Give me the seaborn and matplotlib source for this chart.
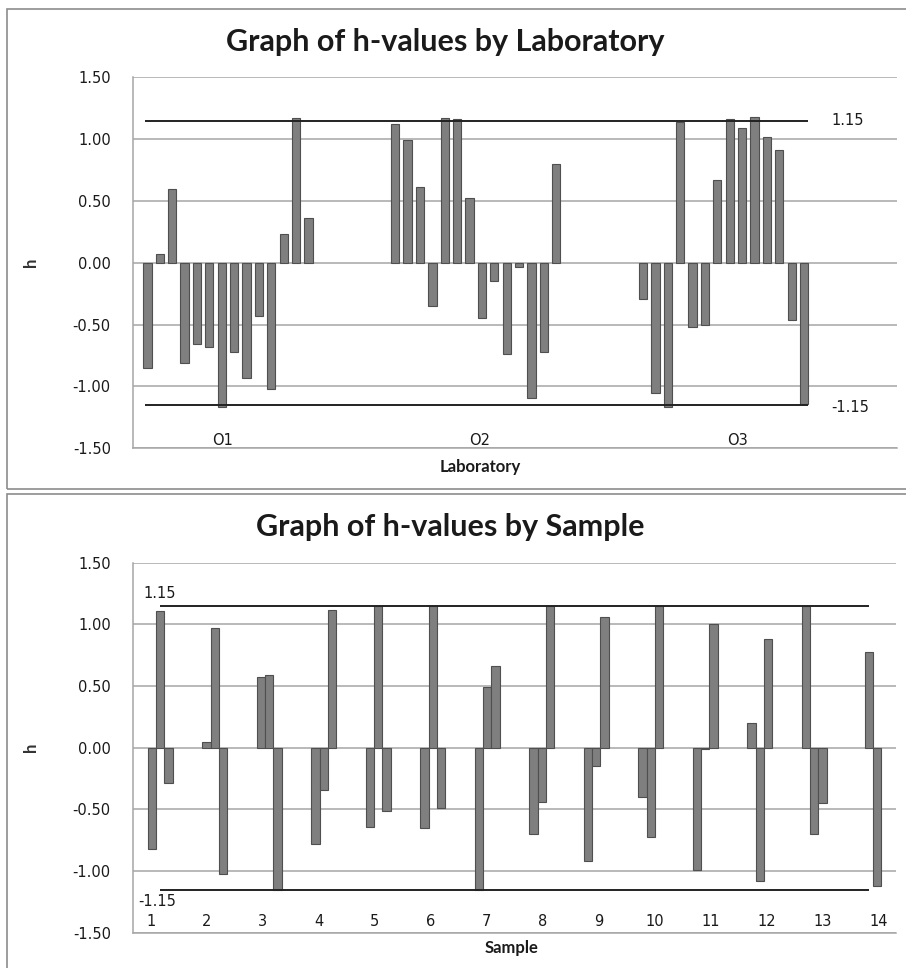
import numpy as np
import pandas as pd
import seaborn as sns
import matplotlib.pyplot as plt
from matplotlib.patches import Rectangle

labs = ['O1', 'O2', 'O3']
samples = [str(i) for i in range(1, 15)]
limit = 1.15

lab_O1 = [-0.85, 0.07, 0.60, -0.81, -0.66, -0.68, -1.17, -0.72, -0.93, -0.43, -1.02, 0.23, 1.17, 0.36]
lab_O2 = [1.12, 0.99, 0.61, -0.35, 1.17, 1.16, 0.52, -0.45, -0.15, -0.74, -0.03, -1.09, -0.72, 0.80]
lab_O3 = [-0.29, -1.05, -1.17, 1.14, -0.52, -0.50, 0.67, 1.16, 1.09, 1.18, 1.02, 0.91, -0.46, -1.14]

smp_O1 = [-0.82, 0.05, 0.57, -0.78, -0.64, -0.65, -1.15, -0.70, -0.92, -0.40, -0.99, 0.20, 1.15, np.nan]
smp_O2 = [1.11, 0.97, 0.59, -0.34, 1.15, 1.15, 0.49, -0.44, -0.15, -0.72, -0.01, -1.08, -0.70, 0.78]
smp_O3 = [-0.29, -1.02, -1.15, 1.12, -0.51, -0.49, 0.66, 1.15, 1.06, 1.15, 1.00, 0.88, -0.45, -1.12]

sns.set_style('white')
plt.rcParams['font.family'] = ['DejaVu Sans']

W, H = 906, 968
bar_col = '#7f7f7f'
edge_col = '#4f4f4f'
grid_col = '#a6a6a6'
line_col = '#222222'
txt_col = '#1a1a1a'
tick_fs = 10.5

fig = plt.figure(figsize=(W / 100, H / 100), dpi=100)

# chart area frames
fig.patches.append(Rectangle((7 / W, 1 - 489 / H), 1, 480 / H, transform=fig.transFigure,
                             fill=False, ec='#8c8c8c', lw=1.2))
fig.patches.append(Rectangle((7 / W, -0.1), 1, 1 - 494 / H + 0.1, transform=fig.transFigure,
                             fill=False, ec='#8c8c8c', lw=1.2))

ax1 = fig.add_axes([133 / W, 1 - 448.3 / H, 764 / W, 371 / H])
ax2 = fig.add_axes([133 / W, 1 - 932.7 / H, 763 / W, 370 / H])


def style_axis(ax):
    ax.set_ylim(-1.5, 1.5)
    ticks = np.arange(-1.5, 1.51, 0.5)
    ax.set_yticks(ticks)
    ax.set_yticklabels([f'{t:.2f}' for t in ticks], fontsize=tick_fs, color=txt_col)
    ax.tick_params(axis='y', length=0, pad=16)
    ax.set_xticks([])
    for y in ticks:
        ax.axhline(y, color=grid_col, lw=1.1, zorder=0)
    for s in ['top', 'right']:
        ax.spines[s].set_visible(False)
    for s in ['left', 'bottom']:
        ax.spines[s].set_color(grid_col)
        ax.spines[s].set_linewidth(1.1)
    ax.set_ylabel('h', fontsize=12, family='Lato', weight='bold', color='#333333', labelpad=24)
    ax.set_xlabel('')


# --- top: by laboratory ---
df_lab = pd.DataFrame({'Laboratory': np.repeat(labs, 14),
                       'Sample': samples * 3,
                       'h': lab_O1 + lab_O2 + lab_O3})
sns.barplot(data=df_lab, x='Laboratory', y='h', hue='Sample', order=labs, hue_order=samples,
            palette=[bar_col] * 14, saturation=1, width=0.70, gap=0.33, errorbar=None,
            edgecolor=edge_col, linewidth=0.8, legend=False, ax=ax1)
style_axis(ax1)
ax1.set_xlim(-0.383, 2.70)
ax1.hlines([limit, -limit], -0.335, 2.34, color=line_col, lw=1.4, zorder=3)
ax1.text(2.435, limit, '1.15', fontsize=tick_fs, va='center', ha='left', color=txt_col)
ax1.text(2.435, -limit - 0.02, '-1.15', fontsize=tick_fs, va='center', ha='left', color=txt_col)
for x, lab in zip([-0.02, 1.016, 2.056], labs):
    ax1.text(x, -1.437, lab, fontsize=tick_fs, ha='center', va='center', color=txt_col)
fig.text(480 / W, 1 - 467 / H, 'Laboratory', fontsize=12, family='Lato', weight='bold',
         ha='center', va='center', color=txt_col)
fig.text(445 / W, 1 - 42 / H, 'Graph of h-values by Laboratory', fontsize=22, family='Lato',
         weight='bold', ha='center', va='center', color=txt_col)

# --- bottom: by sample ---
df_smp = pd.DataFrame({'Sample': samples * 3,
                       'Lab': np.repeat(labs, 14),
                       'h': smp_O1 + smp_O2 + smp_O3})
sns.barplot(data=df_smp, x='Sample', y='h', hue='Lab', order=samples, hue_order=labs,
            palette=[bar_col] * 3, saturation=1, width=0.45, gap=0, errorbar=None,
            edgecolor=edge_col, linewidth=0.8, legend=False, ax=ax2)
style_axis(ax2)
ax2.set_xlim(-0.5, 13.5)
ax2.hlines([limit, -limit], 0, 13, color=line_col, lw=1.4, zorder=3)
ax2.text(-0.31, 1.25, '1.15', fontsize=tick_fs, va='center', ha='left', color=txt_col)
ax2.text(-0.4, -1.243, '-1.15', fontsize=tick_fs, va='center', ha='left', color=txt_col)
for x, s in zip(np.linspace(-0.17, 13.175, 14), samples):
    ax2.text(x, -1.41, s, fontsize=tick_fs, ha='center', va='center', color=txt_col)
fig.text(512 / W, 1 - 948 / H, 'Sample', fontsize=12, family='Lato', weight='bold',
         ha='center', va='center', color=txt_col)
fig.text(450 / W, 1 - 527 / H, 'Graph of h-values by Sample', fontsize=22, family='Lato',
         weight='bold', ha='center', va='center', color=txt_col)

fig.savefig('out.png', dpi=100)
